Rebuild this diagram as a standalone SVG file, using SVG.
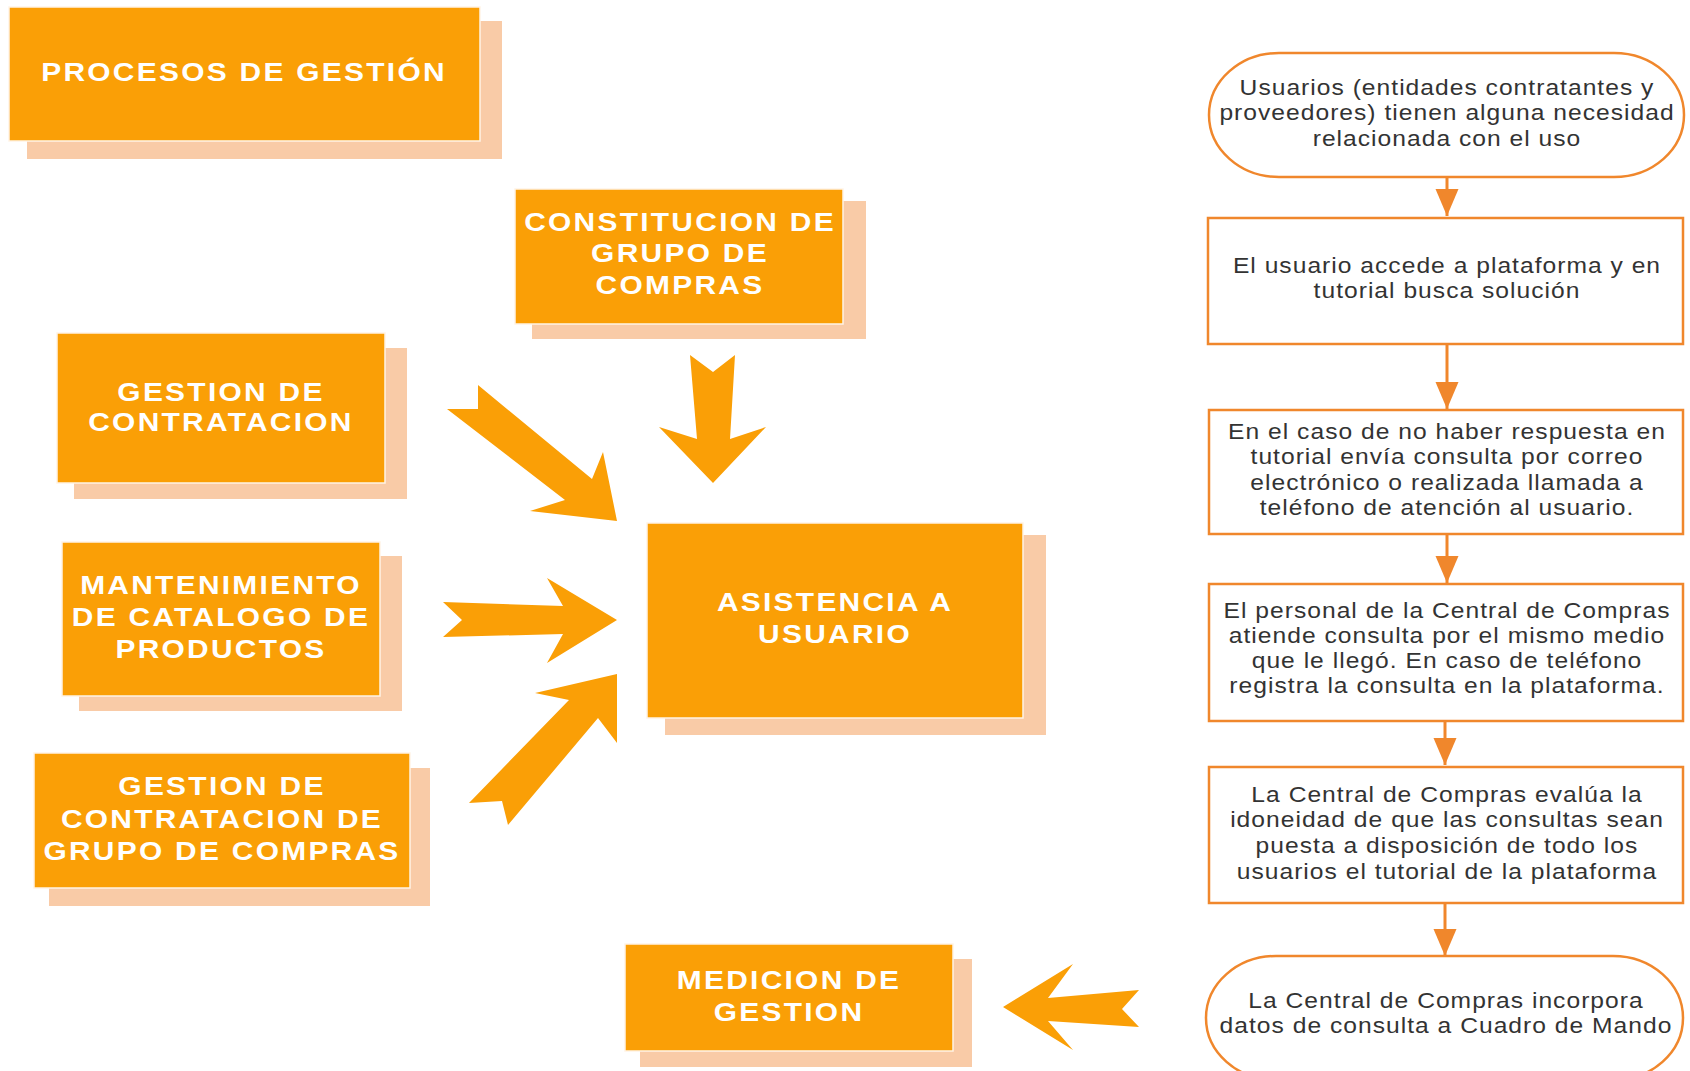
<svg xmlns="http://www.w3.org/2000/svg" width="1690" height="1071" viewBox="0 0 1690 1071">
<defs>
<style>
.shadow{fill:#F9CBA7}
.box{fill:#FA9F06;stroke:#FFF4E6;stroke-width:1.5}
.bt{font-family:"Liberation Sans",Arial,sans-serif;font-weight:bold;font-size:26px;letter-spacing:2px;fill:#FFFFFF;text-anchor:middle;transform-box:fill-box;transform-origin:center;transform:scaleX(1.15)}
.flow{fill:#FFFFFF;stroke:#F0872C;stroke-width:2.5}
.ft{font-family:"Liberation Sans",Arial,sans-serif;font-size:22px;letter-spacing:0.9px;fill:#333333;text-anchor:middle;transform-box:fill-box;transform-origin:center;transform:scaleX(1.12)}
.big{fill:#FA9F06}
.line{stroke:#F0872C;stroke-width:3;fill:none}
</style>
<marker id="ah" markerUnits="userSpaceOnUse" markerWidth="28" markerHeight="24" refX="27" refY="11.5" orient="auto">
<path d="M0,0 L27,11.5 L0,23 z" fill="#F0872C"/>
</marker>
</defs>
<rect width="1690" height="1071" fill="#FFFFFF"/>

<g id="procesos">
<rect class="shadow" x="27" y="21" width="475" height="138"/>
<rect class="box" x="9" y="7" width="471" height="134"/>
<text class="bt" x="244" y="81">PROCESOS DE GESTIÓN</text>
</g>

<g id="constitucion">
<rect class="shadow" x="532" y="201" width="334" height="138"/>
<rect class="box" x="515" y="189" width="328" height="135"/>
<text class="bt" x="680" y="231">CONSTITUCION DE</text>
<text class="bt" x="680" y="262">GRUPO DE</text>
<text class="bt" x="680" y="294">COMPRAS</text>
</g>

<g id="gestion-contratacion">
<rect class="shadow" x="74" y="348" width="333" height="151"/>
<rect class="box" x="57" y="333" width="328" height="150"/>
<text class="bt" x="221" y="401">GESTION DE</text>
<text class="bt" x="221" y="431">CONTRATACION</text>
</g>

<g id="mantenimiento">
<rect class="shadow" x="79" y="556" width="323" height="155"/>
<rect class="box" x="62" y="542" width="318" height="154"/>
<text class="bt" x="221" y="594">MANTENIMIENTO</text>
<text class="bt" x="221" y="626">DE CATALOGO DE</text>
<text class="bt" x="221" y="658">PRODUCTOS</text>
</g>

<g id="gestion-grupo">
<rect class="shadow" x="49" y="768" width="381" height="138"/>
<rect class="box" x="34" y="753" width="376" height="135"/>
<text class="bt" x="222" y="795">GESTION DE</text>
<text class="bt" x="222" y="828">CONTRATACION DE</text>
<text class="bt" x="222" y="860">GRUPO DE COMPRAS</text>
</g>

<g id="asistencia">
<rect class="shadow" x="665" y="535" width="381" height="200"/>
<rect class="box" x="647" y="523" width="376" height="195"/>
<text class="bt" x="835" y="611">ASISTENCIA A</text>
<text class="bt" x="835" y="643">USUARIO</text>
</g>

<g id="medicion">
<rect class="shadow" x="640" y="959" width="332" height="108"/>
<rect class="box" x="625" y="944" width="328" height="107"/>
<text class="bt" x="789" y="989">MEDICION DE</text>
<text class="bt" x="789" y="1021">GESTION</text>
</g>

<g id="f1">
<rect class="flow" x="1209" y="53" width="475" height="124" rx="70" ry="62"/>
<text class="ft" x="1447" y="95">Usuarios (entidades contratantes y</text>
<text class="ft" x="1447" y="120">proveedores) tienen alguna necesidad</text>
<text class="ft" x="1447" y="146">relacionada con el uso</text>
</g>

<g id="f2">
<rect class="flow" x="1208" y="218" width="475" height="126"/>
<text class="ft" x="1447" y="273">El usuario accede a plataforma y en</text>
<text class="ft" x="1447" y="298">tutorial busca solución</text>
</g>

<g id="f3">
<rect class="flow" x="1209" y="410" width="474" height="124"/>
<text class="ft" x="1447" y="439">En el caso de no haber respuesta en</text>
<text class="ft" x="1447" y="464">tutorial envía consulta por correo</text>
<text class="ft" x="1447" y="490">electrónico o realizada llamada a</text>
<text class="ft" x="1447" y="515">teléfono de atención al usuario.</text>
</g>

<g id="f4">
<rect class="flow" x="1209" y="584" width="474" height="137"/>
<text class="ft" x="1447" y="618">El personal de la Central de Compras</text>
<text class="ft" x="1447" y="643">atiende consulta por el mismo medio</text>
<text class="ft" x="1447" y="668">que le llegó. En caso de teléfono</text>
<text class="ft" x="1447" y="693">registra la consulta en la plataforma.</text>
</g>

<g id="f5">
<rect class="flow" x="1209" y="767" width="474" height="136"/>
<text class="ft" x="1447" y="802">La Central de Compras evalúa la</text>
<text class="ft" x="1447" y="827">idoneidad de que las consultas sean</text>
<text class="ft" x="1447" y="853">puesta a disposición de todo los</text>
<text class="ft" x="1447" y="879">usuarios el tutorial de la plataforma</text>
</g>

<g id="f6">
<rect class="flow" x="1206" y="956" width="477" height="124" rx="70" ry="62"/>
<text class="ft" x="1446" y="1008">La Central de Compras incorpora</text>
<text class="ft" x="1446" y="1033">datos de consulta a Cuadro de Mando</text>
</g>

<g id="connectors">
<line class="line" x1="1447" y1="177" x2="1447" y2="216" marker-end="url(#ah)"/>
<line class="line" x1="1447" y1="344" x2="1447" y2="409" marker-end="url(#ah)"/>
<line class="line" x1="1447" y1="534" x2="1447" y2="583" marker-end="url(#ah)"/>
<line class="line" x1="1445" y1="721" x2="1445" y2="765" marker-end="url(#ah)"/>
<line class="line" x1="1445" y1="903" x2="1445" y2="956" marker-end="url(#ah)"/>
<polygon class="big" points="690,355 713,372 735,355 730,439 766,427 713,483 659,427 697,439"/>
<polygon class="big" points="478,385 592,479 603,452 617,521 530,511 565,500 447,409 478,409"/>
<polygon class="big" points="443,602 563,606 547,578 617,620 547,663 563,634 443,637 462,620"/>
<polygon class="big" points="617,674 617,743 598,718 508,825 502,801 469,803 569,700 535,693"/>
<polygon class="big" points="1003,1007 1073,964 1048,998 1139,990 1122,1009 1139,1027 1048,1021 1073,1050"/>
</g>
</svg>
